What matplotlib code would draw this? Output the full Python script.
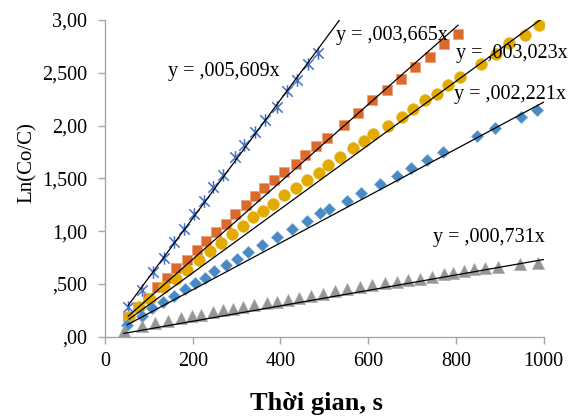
import numpy as np
import matplotlib
matplotlib.use('Agg')
import matplotlib.pyplot as plt
from matplotlib.path import Path

# data: time [s] and Ln(Co/C)
t_cross = [53, 85, 110, 135, 157, 180, 204, 226, 247, 268, 296, 318, 342, 365, 392, 414, 437, 464, 486]
y_cross = [0.28, 0.44, 0.61, 0.75, 0.90, 1.02, 1.16, 1.29, 1.42, 1.53, 1.70, 1.82, 1.94, 2.05, 2.18, 2.33, 2.43, 2.58, 2.69]

t_square = [53, 75, 97, 119, 141, 163, 186, 209, 230, 253, 276, 296, 322, 342, 363, 386, 409,
            435, 456, 481, 506, 546, 576, 608, 644, 674, 707, 740, 772, 804]
y_square = [0.19, 0.28, 0.37, 0.47, 0.56, 0.65, 0.73, 0.82, 0.91, 0.99, 1.07, 1.16, 1.25, 1.33, 1.41, 1.48, 1.56,
            1.64, 1.72, 1.81, 1.88, 2.01, 2.12, 2.24, 2.34, 2.44, 2.55, 2.65, 2.77, 2.87]

t_circle = [55, 78, 103, 135, 162, 188, 214, 239, 264, 289, 314, 338, 361, 384, 409, 436, 461, 487,
            509, 537, 566, 591, 612, 646, 677, 703, 730, 756, 783, 810, 857, 892, 922, 958, 990]
y_circle = [0.19, 0.28, 0.36, 0.47, 0.55, 0.63, 0.73, 0.81, 0.89, 0.97, 1.05, 1.13, 1.19, 1.26, 1.34, 1.41, 1.48, 1.55,
            1.63, 1.70, 1.79, 1.85, 1.92, 2.00, 2.08, 2.16, 2.24, 2.30, 2.38, 2.46, 2.58, 2.68, 2.78, 2.86, 2.95]

t_diamond = [51, 84, 108, 132, 157, 182, 205, 227, 249, 277, 302, 325, 359, 393, 426, 460, 490, 511,
             551, 584, 627, 665, 697, 734, 770, 848, 889, 949, 984]
y_diamond = [0.11, 0.20, 0.27, 0.33, 0.39, 0.45, 0.51, 0.56, 0.62, 0.68, 0.74, 0.80, 0.87, 0.94, 1.02, 1.10, 1.17, 1.21,
             1.29, 1.36, 1.45, 1.52, 1.60, 1.67, 1.75, 1.90, 1.98, 2.08, 2.15]

t_tri = [43, 84, 114, 144, 173, 198, 220, 247, 270, 293, 315, 340, 369, 393, 418, 443, 469, 496,
         524, 553, 582, 610, 639, 665, 692, 718, 745, 772, 794, 819, 841, 867, 897, 946, 988]
y_tri = [0.05, 0.10, 0.13, 0.15, 0.18, 0.20, 0.21, 0.23, 0.25, 0.26, 0.28, 0.30, 0.32, 0.33, 0.35, 0.37, 0.39, 0.40,
         0.43, 0.45, 0.47, 0.49, 0.51, 0.52, 0.54, 0.55, 0.57, 0.59, 0.60, 0.62, 0.64, 0.65, 0.66, 0.69, 0.70]

# trendlines y = k*x
slopes = [0.005609, 0.003665, 0.003023, 0.002221, 0.000731]
line_end = [535, 805, 1000, 1000, 1000]
eq_labels = ['y = ,005,609x', 'y = ,003,665x', 'y = ,003,023x', 'y = ,002,221x', 'y = ,000,731x']
eq_pos = [(144, 2.51), (527, 2.855), (800, 2.68), (796, 2.29), (749, 0.94)]

y_ticks = [0, 0.5, 1.0, 1.5, 2.0, 2.5, 3.0]
y_ticklabels = [',00', ',500', '1,00', '1,500', '2,00', '2,500', '3,00']
x_ticks = [0, 200, 400, 600, 800, 1000]

# asterisk-like marker: x with a vertical bar (Excel "star")
star = Path([(-0.5, -0.5), (0.5, 0.5), (-0.5, 0.5), (0.5, -0.5), (0, -0.6), (0, 0.6)],
            [Path.MOVETO, Path.LINETO, Path.MOVETO, Path.LINETO, Path.MOVETO, Path.LINETO])

plt.rcParams['font.family'] = ['Liberation Serif', 'DejaVu Serif']

fig = plt.figure(figsize=(5.81, 4.19), dpi=100)
ax = fig.add_axes([0.1807, 0.1964, 0.7548, 0.7559])

series = [
    (t_cross, y_cross, dict(marker=star, ms=9, mew=1.1, mec='#4472C4', mfc='none')),
    (t_square, y_square, dict(marker='s', ms=6.8, mec='#F0A070', mew=0.6, mfc='#DA6B2C')),
    (t_circle, y_circle, dict(marker='o', ms=8.4, mec='#E8B830', mew=0.5, mfc='#E3AA00')),
    (t_diamond, y_diamond, dict(marker='D', ms=6.2, mec='#6FA4D6', mew=0.5, mfc='#4A8AC4')),
    (t_tri, y_tri, dict(marker='^', ms=8, mec='#A8A8A8', mew=0.5, mfc='#959595')),
]
for (t, y, style), k, xe in zip(series, slopes, line_end):
    ax.plot(t, y, linestyle='none', zorder=3, **style)
    xs = np.array([min(t), xe])
    ax.plot(xs, k * xs, color='black', lw=0.9, zorder=4)

for lab, (px, py) in zip(eq_labels, eq_pos):
    ax.text(px, py, lab, fontsize=14.5, ha='left', va='center', zorder=5)

ax.set_xlim(0, 1000)
ax.set_ylim(0, 3.0)
ax.set_xticks(x_ticks)
ax.set_yticks(y_ticks)
ax.set_yticklabels(y_ticklabels)

for s in ['top', 'right']:
    ax.spines[s].set_visible(False)
for s in ['left', 'bottom']:
    ax.spines[s].set_color('#A6A6A6')
    ax.spines[s].set_linewidth(1.0)
ax.tick_params(axis='both', direction='out', length=5, width=1.0, color='#A6A6A6',
               labelsize=14.5, labelcolor='black')
ax.tick_params(axis='y', pad=8)
ax.tick_params(axis='x', pad=6)

ax.set_ylabel('Ln(Co/C)', fontsize=15)
ax.yaxis.set_label_coords(-0.155, 0.55)
ax.set_xlabel('Thời gian, s', fontsize=19, fontweight='bold')
ax.xaxis.set_label_coords(0.482, -0.175)

fig.savefig('out.png', dpi=100)
